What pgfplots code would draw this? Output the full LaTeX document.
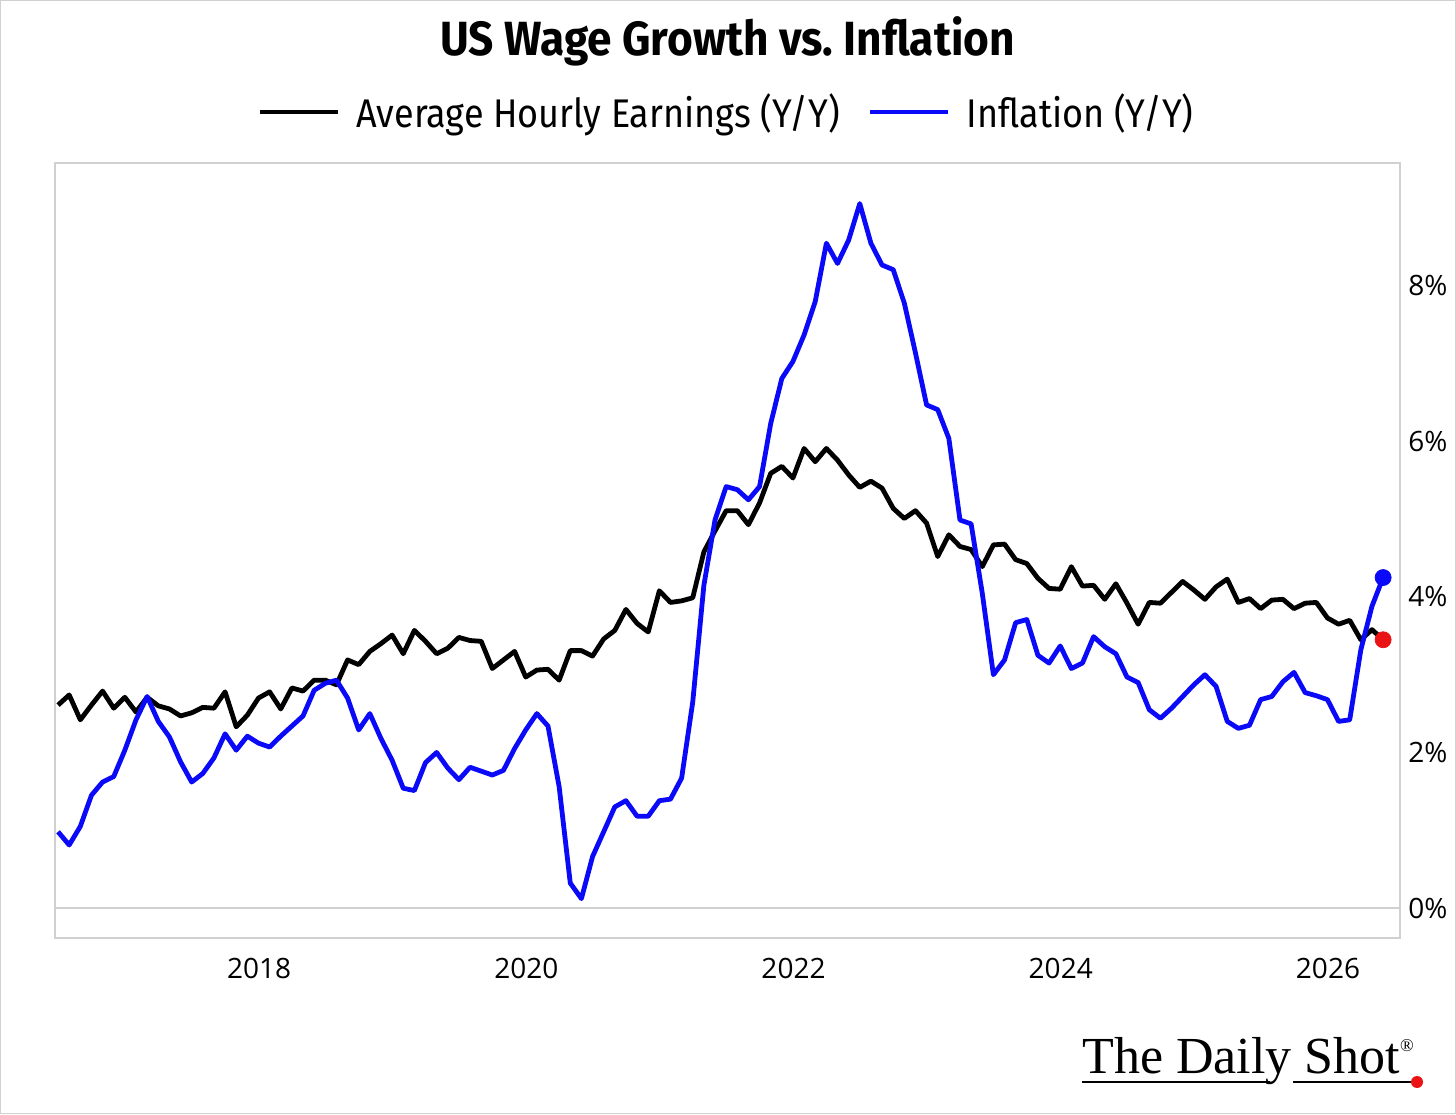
\documentclass[border=0pt]{standalone}
\usepackage{fontspec}
\setmainfont{Open Sans}
\newfontfamily\titlefont[FakeStretch=0.92]{Fira Sans}
\newfontfamily\legfont[FakeStretch=0.9]{Fira Sans}
\newfontfamily\logofont{Liberation Serif}
\usepackage{pgfplots}
\usepackage{pgfplotstable}
\pgfplotsset{compat=1.18}
\definecolor{lineblue}{RGB}{10,10,248}
\definecolor{framegray}{RGB}{208,208,208}
\definecolor{dotred}{RGB}{235,20,20}

\pgfplotstableread{
i ahe cpi
0 2.61 0.98
1 2.74 0.81
2 2.42 1.05
3 2.61 1.45
4 2.79 1.62
5 2.57 1.69
6 2.71 2.03
7 2.52 2.42
8 2.71 2.72
9 2.60 2.40
10 2.56 2.20
11 2.47 1.88
12 2.51 1.62
13 2.58 1.73
14 2.57 1.93
15 2.78 2.24
16 2.33 2.03
17 2.48 2.21
18 2.70 2.12
19 2.78 2.07
20 2.56 2.21
21 2.83 2.34
22 2.79 2.47
23 2.93 2.80
24 2.93 2.89
25 2.87 2.93
26 3.19 2.70
27 3.13 2.29
28 3.30 2.50
29 3.40 2.18
30 3.51 1.90
31 3.27 1.54
32 3.57 1.51
33 3.43 1.87
34 3.27 2.00
35 3.34 1.80
36 3.48 1.65
37 3.44 1.81
38 3.43 1.76
39 3.08 1.71
40 3.19 1.77
41 3.30 2.05
42 2.97 2.29
43 3.06 2.50
44 3.07 2.34
45 2.93 1.56
46 3.31 0.32
47 3.31 0.12
48 3.24 0.66
49 3.46 0.98
50 3.57 1.30
51 3.84 1.38
52 3.66 1.18
53 3.55 1.18
54 4.08 1.38
55 3.93 1.40
56 3.95 1.67
57 3.99 2.65
58 4.58 4.15
59 4.85 4.99
60 5.11 5.42
61 5.11 5.38
62 4.93 5.25
63 5.21 5.42
64 5.59 6.23
65 5.68 6.81
66 5.53 7.03
67 5.91 7.37
68 5.74 7.80
69 5.91 8.55
70 5.76 8.29
71 5.57 8.59
72 5.41 9.06
73 5.49 8.55
74 5.40 8.27
75 5.14 8.21
76 5.01 7.78
77 5.11 7.14
78 4.95 6.47
79 4.52 6.41
80 4.80 6.04
81 4.65 4.99
82 4.61 4.94
83 4.39 4.05
84 4.67 3.00
85 4.68 3.19
86 4.48 3.67
87 4.43 3.71
88 4.24 3.25
89 4.11 3.15
90 4.10 3.37
91 4.39 3.08
92 4.14 3.15
93 4.15 3.49
94 3.97 3.36
95 4.17 3.27
96 3.92 2.97
97 3.65 2.90
98 3.93 2.55
99 3.92 2.44
100 4.06 2.57
101 4.20 2.72
102 4.09 2.87
103 3.97 3.00
104 4.13 2.85
105 4.23 2.40
106 3.93 2.31
107 3.98 2.35
108 3.85 2.68
109 3.96 2.72
110 3.97 2.91
111 3.85 3.03
112 3.92 2.77
113 3.93 2.73
114 3.73 2.68
115 3.65 2.40
116 3.70 2.42
117 3.45 3.32
118 3.58 3.88
119 3.45 4.25
}\wagedata

\begin{document}
\begin{tikzpicture}
\useasboundingbox (0,0) rectangle (728pt,557pt);
\draw[framegray, line width=0.6pt] (0.3pt,0.3pt) rectangle (727.7pt,556.7pt);
\begin{axis}[
  at={(27.5pt,88pt)}, anchor=south west,
  scale only axis, width=672.5pt, height=387.5pt,
  xmin=2016.473, xmax=2026.539, ymin=-0.386, ymax=9.582,
  xtick={2018,2020,2022,2024,2026},
  xticklabels={2018,2020,2022,2024,2026},
  ytick={0,2,4,6,8},
  yticklabels={0\%,2\%,4\%,6\%,8\%},
  yticklabel pos=right,
  major tick length=0pt,
  axis line style={framegray, line width=1pt},
  tick label style={font=\fontsize{14}{16}\selectfont},
  xticklabel style={anchor=base, yshift=-20pt},
  yticklabel style={anchor=west, inner sep=0pt, xshift=4pt},
  /pgf/number format/assume math mode=true,
  title={\titlefont\bfseries US Wage Growth vs.\ Inflation},
  title style={at={(0.5,1)}, anchor=center, yshift=55pt, font=\fontsize{24}{28}\selectfont},
  legend style={at={(0.5,1.0658)}, anchor=center, draw=none, fill=none,
    legend columns=2, font=\legfont\fontsize{20}{24}\selectfont,
    /tikz/every odd column/.append style={column sep=6pt},
    /tikz/every even column/.append style={column sep=12pt}},
  legend image code/.code={\draw[#1] (0pt,0pt) -- (39pt,0pt);},
  clip=false,
]
\draw[framegray, line width=1pt] (axis cs:2016.473,0) -- (axis cs:2026.539,0);
\addplot[black, line width=2.4pt, line join=round] table[x expr=2016.496+\thisrow{i}/12, y=ahe] {\wagedata};
\addlegendentry{Average Hourly Earnings (Y/Y)}
\addplot[lineblue, line width=2.4pt, line join=round] table[x expr=2016.496+\thisrow{i}/12, y=cpi] {\wagedata};
\addlegendentry{Inflation (Y/Y)}
\addplot[only marks, mark=*, mark size=4pt, color=lineblue, forget plot] coordinates {(2026.4127,4.25)};
\addplot[only marks, mark=*, mark size=4pt, color=dotred, forget plot] coordinates {(2026.4127,3.45)};
\end{axis}
\node[anchor=base west, inner sep=0pt, font=\logofont\fontsize{26}{30}\selectfont] at (541pt,20.5pt) {The Daily Shot\raisebox{0.9ex}{\fontsize{9}{9}\selectfont ®}};
\draw[black, line width=1pt] (541pt,16pt) -- (635pt,16pt);
\draw[black, line width=1pt] (646.5pt,16pt) -- (706.5pt,16pt);
\fill[dotred] (708.5pt,16pt) circle (3pt);
\end{tikzpicture}
\end{document}
